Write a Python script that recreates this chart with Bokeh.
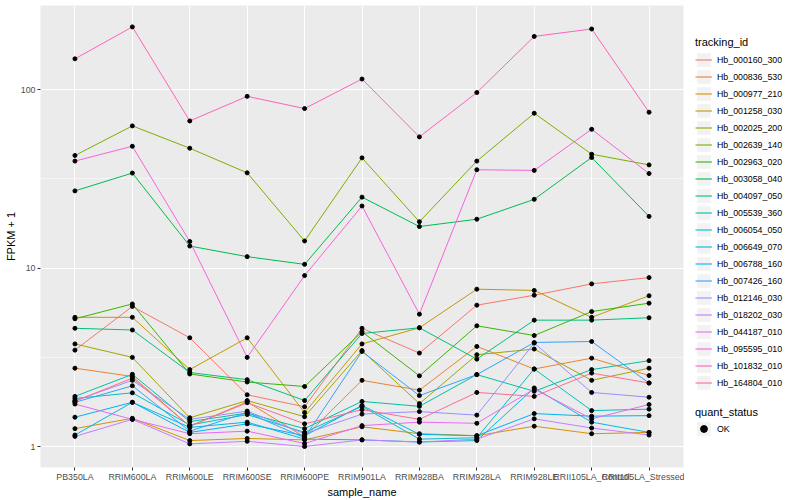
from bokeh.plotting import figure
from bokeh.layouts import row
from bokeh.models import (ColumnDataSource, FactorRange, Range1d, FixedTicker,
                          Legend, LegendItem, BasicTickFormatter)
from bokeh.embed import file_html
from bokeh.resources import INLINE

# ---------------- data ----------------
samples = ["PB350LA", "RRIM600LA", "RRIM600LE", "RRIM600SE", "RRIM600PE", "RRIM901LA",
           "RRIM928BA", "RRIM928LA", "RRIM928LE", "RRII105LA_Control", "RRII105LA_Stressed"]

tracking_ids = ["Hb_000160_300", "Hb_000836_530", "Hb_000977_210", "Hb_001258_030",
                "Hb_002025_200", "Hb_002639_140", "Hb_002963_020", "Hb_003058_040",
                "Hb_004097_050", "Hb_005539_360", "Hb_006054_050", "Hb_006649_070",
                "Hb_006788_160", "Hb_007426_160", "Hb_012146_030", "Hb_018202_030",
                "Hb_044187_010", "Hb_095595_010", "Hb_101832_010", "Hb_164804_010"]

hb_000160_300 = [3.47, 6.1, 4.07, 1.95, 1.67, 4.6, 3.34, 6.2, 7.05, 8.16, 8.85]
hb_000836_530 = [2.75, 2.47, 1.3, 1.78, 1.13, 2.35, 2.07, 3.64, 2.72, 3.13, 2.5]
hb_000977_210 = [1.26, 1.44, 1.08, 1.11, 1.09, 1.29, 1.18, 1.15, 1.30, 1.18, 1.20]
hb_001258_030 = [5.3, 5.3, 2.7, 4.07, 1.55, 3.76, 4.63, 7.62, 7.5, 5.3, 7.0]
hb_002025_200 = [3.76, 3.16, 1.45, 1.81, 1.47, 3.45, 1.74, 3.27, 3.52, 2.35, 2.75]
hb_002639_140 = [42.8, 62.7, 47.0, 34.2, 14.2, 41.5, 18.2, 39.8, 73.8, 43.5, 37.9]
hb_002963_020 = [5.2, 6.3, 2.55, 2.3, 2.17, 4.4, 2.49, 4.75, 4.19, 5.71, 6.36]
hb_003058_040 = [27.1, 34.1, 13.3, 11.6, 10.5, 25.0, 17.1, 18.8, 24.3, 41.7, 19.5]
hb_004097_050 = [4.6, 4.5, 2.6, 2.37, 1.81, 4.3, 4.63, 3.09, 5.11, 5.11, 5.27]
hb_005539_360 = [1.91, 2.54, 1.38, 1.54, 1.26, 1.79, 1.68, 2.53, 2.04, 2.7, 3.03]
hb_006054_050 = [1.86, 2.0, 1.32, 1.51, 1.2, 1.68, 1.10, 1.12, 2.72, 1.59, 1.62]
hb_006649_070 = [1.16, 1.77, 1.28, 1.37, 1.1, 1.09, 1.06, 1.08, 2.13, 1.37, 1.2]
hb_006788_160 = [1.46, 1.77, 1.2, 1.34, 1.15, 1.70, 1.17, 1.15, 1.53, 1.48, 1.49]
hb_007426_160 = [1.77, 2.19, 1.22, 1.55, 1.12, 3.41, 1.93, 2.53, 3.83, 3.88, 2.27]
hb_012146_030 = [1.81, 2.35, 1.42, 1.58, 1.18, 1.52, 1.57, 1.50, 3.8, 2.01, 1.89]
hb_018202_030 = [1.14, 1.42, 1.035, 1.07, 1.0, 1.09, 1.06, 1.1, 1.43, 1.27, 1.16]
hb_044187_010 = [1.73, 1.42, 1.18, 1.22, 1.04, 1.31, 1.37, 1.35, 2.1, 1.43, 1.72]
hb_095595_010 = [39.8, 48.2, 14.1, 3.16, 9.08, 22.3, 5.52, 35.6, 35.3, 60.0, 33.9]
hb_101832_010 = [149, 225, 66.8, 91.8, 78.4, 114.8, 54.4, 96.4, 199, 219, 74.8]
hb_164804_010 = [1.79, 2.42, 1.3, 1.76, 1.34, 1.61, 1.42, 2.01, 1.91, 2.58, 2.27]

series_values = [hb_000160_300, hb_000836_530, hb_000977_210, hb_001258_030,
                 hb_002025_200, hb_002639_140, hb_002963_020, hb_003058_040,
                 hb_004097_050, hb_005539_360, hb_006054_050, hb_006649_070,
                 hb_006788_160, hb_007426_160, hb_012146_030, hb_018202_030,
                 hb_044187_010, hb_095595_010, hb_101832_010, hb_164804_010]

quant_status = ["OK"]

y_major = [1, 10, 100]
y_minor = [0.3162, 3.162, 31.62]

# ---------------- style ----------------
colors = ["#F8766D", "#EA8331", "#D89000", "#C09B00", "#A3A500", "#7CAE00", "#39B600",
          "#00BB4E", "#00BF7D", "#00C1A3", "#00BFC4", "#00BAE0", "#00B0F6", "#35A2FF",
          "#9590FF", "#C77CFF", "#E76BF3", "#FA62DB", "#FF62BC", "#FF6C91"]
FONT = "Liberation Sans"

p = figure(x_range=FactorRange(factors=samples, range_padding=0.1,
                               range_padding_units="absolute"),
           y_axis_type="log", y_range=Range1d(0.763, 296.5),
           width=684, height=500,
           min_border_left=40, min_border_right=1, min_border_top=5, min_border_bottom=32,
           output_backend="svg", toolbar_location=None,
           background_fill_color="#EBEBEB", border_fill_color="white",
           outline_line_color=None)

# grids
p.xgrid.grid_line_color = "white"
p.xgrid.grid_line_width = 1.1
ticker = FixedTicker(ticks=y_major, minor_ticks=y_minor)
p.yaxis.ticker = ticker
p.ygrid.ticker = ticker
p.ygrid.grid_line_color = "white"
p.ygrid.grid_line_width = 1.1
p.ygrid.minor_grid_line_color = "white"
p.ygrid.minor_grid_line_width = 0.55
p.yaxis.formatter = BasicTickFormatter()

# axes
for ax in (p.xaxis[0], p.yaxis[0]):
    ax.axis_line_color = None
    ax.major_tick_line_color = "#333333"
    ax.major_tick_out = 3
    ax.major_tick_in = 0
    ax.minor_tick_line_color = None
    ax.major_label_text_color = "#4D4D4D"
    ax.major_label_text_font = FONT
    ax.major_label_text_font_size = "8.8px"
    ax.major_label_standoff = 1
    ax.axis_label_text_font = FONT
    ax.axis_label_text_font_size = "11px"
    ax.axis_label_text_font_style = "normal"
    ax.axis_label_text_color = "black"
    ax.axis_label_standoff = 1
p.xaxis.axis_label = "sample_name"
p.yaxis.axis_label = "FPKM + 1"

for vals, c in zip(series_values, colors):
    p.line(x=samples, y=vals, line_color=c, line_width=1.0)

xs, ys = [], []
for vals in series_values:
    xs.extend(samples)
    ys.extend(vals)
src = ColumnDataSource(dict(x=xs, y=ys))
p.scatter(x="x", y="y", source=src, size=4, fill_color="black", line_color="black")

# ---------------- legend panel ----------------
lp = figure(width=116, height=500, x_range=Range1d(0, 1), y_range=Range1d(0, 1),
            x_axis_location=None, y_axis_location=None, toolbar_location=None,
            output_backend="svg", min_border_left=0, min_border_right=0,
            min_border_top=5, min_border_bottom=32, outline_line_color=None,
            background_fill_color="white", border_fill_color="white")
lp.grid.visible = False

# legend-only renderers, placed outside the visible range of this panel
off_x, off_y = [5, 6], [5, 6]
box_r = lp.rect(x=off_x, y=off_y, width=1, height=1, fill_color="#F2F2F2", line_color=None)
items1 = []
for name, c in zip(tracking_ids, colors):
    r = lp.line(x=off_x, y=off_y, line_color=c, line_width=1.1)
    items1.append(LegendItem(label=name, renderers=[box_r, r]))
pt_r = lp.scatter(x=off_x, y=off_y, size=4, fill_color="black", line_color="black")

common = dict(orientation="vertical", margin=0, padding=5, spacing=0,
              glyph_width=17, glyph_height=17, label_height=17, label_standoff=5,
              title_text_font=FONT, title_text_font_size="11px",
              title_text_font_style="normal", title_text_color="black",
              label_text_font=FONT, label_text_font_size="8.8px", label_text_color="black",
              border_line_alpha=0, background_fill_alpha=0)

leg1 = Legend(items=items1, title="tracking_id", location=(6, 71), title_standoff=3, **common)
leg2 = Legend(items=[LegendItem(label=quant_status[0], renderers=[box_r, pt_r])],
              title="quant_status", location=(6, 25), title_standoff=2, **common)
lp.add_layout(leg1)
lp.add_layout(leg2)

layout = row(p, lp)
open("out.html", "w").write(file_html(layout, INLINE))
